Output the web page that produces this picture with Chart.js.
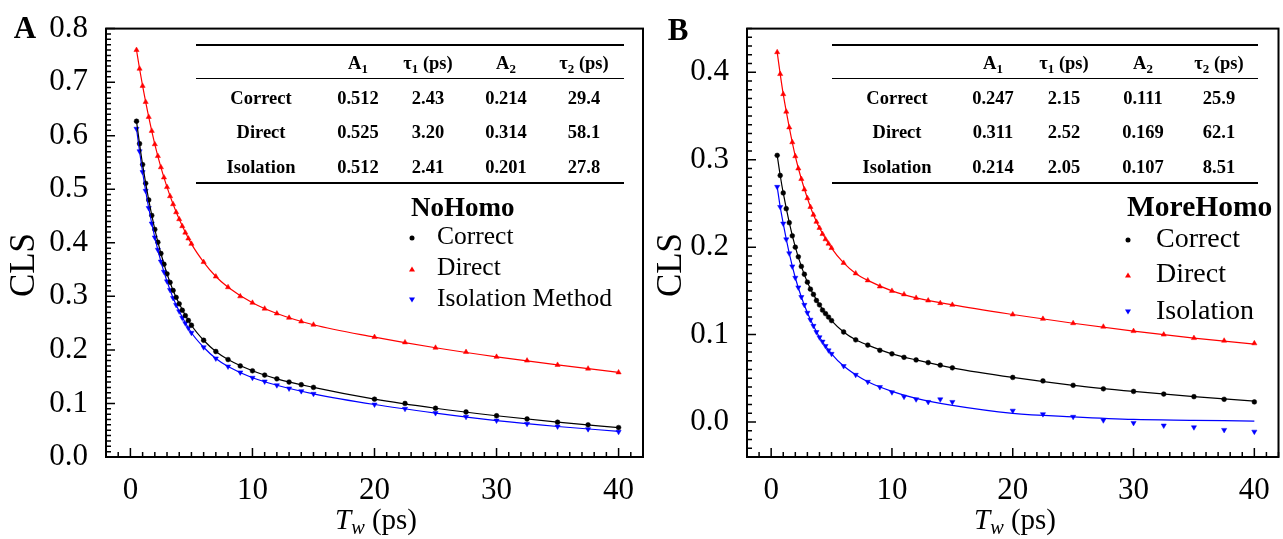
<!DOCTYPE html>
<html>
<head>
<meta charset="utf-8">
<script src="https://cdn.jsdelivr.net/npm/chart.js@4.4.1/dist/chart.umd.min.js"></script>
<style>
  body { margin: 0; background: #fff; }
  #wrap { position: relative; width: 1283px; height: 539px; overflow: hidden; font-family: "Liberation Serif", "Times New Roman", serif; color: #000; }
  .panel { position: absolute; top: 0; height: 539px; }
  .t { position: absolute; white-space: nowrap; transform: translate(-50%, -50%); line-height: 1; }
  .l { position: absolute; white-space: nowrap; transform: translate(0, -50%); line-height: 1; }
  .rule { position: absolute; height: 0; border-top: 2px solid #000; }
  .tab { font-weight: bold; font-size: 18.5px; }
  sub { font-size: 0.7em; vertical-align: -0.25em; }
  .dot { position: absolute; width: 5px; height: 5px; border-radius: 50%; background: #000; transform: translate(-50%, -50%); }
  .up { position: absolute; width: 0; height: 0; border-left: 3px solid transparent; border-right: 3px solid transparent; border-bottom: 5px solid #f00; transform: translate(-50%, -50%); }
  .down { position: absolute; width: 0; height: 0; border-left: 3px solid transparent; border-right: 3px solid transparent; border-top: 5px solid #00f; transform: translate(-50%, -50%); }
</style>
</head>
<body>
<div id="wrap">
  <div class="panel" style="left:0;width:650px"><canvas id="chartA"></canvas></div>
  <div class="panel" style="left:640px;width:643px"><canvas id="chartB"></canvas></div>
</div>
<script>
// waiting times (ps) of the measured points
var tData = [0.5, 0.75, 1, 1.25, 1.5, 1.75, 2, 2.25, 2.5, 2.75, 3, 3.25, 3.5, 3.75, 4, 4.25, 4.5, 4.75, 5,
  6, 7, 8, 9, 10, 11, 12, 13, 14, 15, 20, 22.5, 25, 27.5, 30, 32.5, 35, 37.5, 40];

// panel A (NoHomo)
var aCorrect = [0.627, 0.585, 0.546, 0.511, 0.480, 0.451, 0.425, 0.401, 0.380, 0.360, 0.342, 0.326, 0.311, 0.298, 0.286, 0.274, 0.264, 0.255, 0.246,
  0.218, 0.197, 0.182, 0.170, 0.161, 0.153, 0.146, 0.140, 0.135, 0.130, 0.108, 0.100, 0.091, 0.084, 0.077, 0.071, 0.065, 0.060, 0.055];
var aDirect = [0.760, 0.725, 0.693, 0.663, 0.635, 0.609, 0.584, 0.562, 0.541, 0.522, 0.504, 0.487, 0.472, 0.457, 0.444, 0.431, 0.419, 0.408, 0.398,
  0.364, 0.337, 0.317, 0.300, 0.288, 0.277, 0.268, 0.260, 0.253, 0.247, 0.224, 0.214, 0.204, 0.196, 0.187, 0.180, 0.172, 0.165, 0.158];
var aIsolation = [0.613, 0.571, 0.532, 0.497, 0.465, 0.436, 0.410, 0.387, 0.365, 0.346, 0.328, 0.312, 0.297, 0.284, 0.272, 0.260, 0.250, 0.241, 0.232,
  0.205, 0.184, 0.169, 0.158, 0.148, 0.141, 0.134, 0.128, 0.123, 0.118, 0.098, 0.090, 0.082, 0.075, 0.068, 0.062, 0.057, 0.052, 0.047];

// panel B (MoreHomo)
var bCorrect = [0.305, 0.282, 0.262, 0.244, 0.228, 0.213, 0.200, 0.189, 0.178, 0.169, 0.160, 0.152, 0.146, 0.139, 0.134, 0.128, 0.124, 0.120, 0.116,
  0.103, 0.094, 0.088, 0.082, 0.078, 0.074, 0.071, 0.068, 0.065, 0.062, 0.051, 0.047, 0.042, 0.038, 0.035, 0.032, 0.029, 0.026, 0.023];
var bDirect = [0.423, 0.398, 0.375, 0.355, 0.337, 0.320, 0.304, 0.290, 0.278, 0.266, 0.256, 0.246, 0.237, 0.229, 0.222, 0.215, 0.209, 0.204, 0.199,
  0.182, 0.170, 0.162, 0.155, 0.150, 0.146, 0.142, 0.139, 0.136, 0.134, 0.123, 0.118, 0.113, 0.109, 0.104, 0.100, 0.096, 0.093, 0.090];
var bIsolation = [0.269, 0.246, 0.227, 0.209, 0.193, 0.178, 0.165, 0.154, 0.143, 0.134, 0.125, 0.117, 0.110, 0.103, 0.097, 0.092, 0.087, 0.082, 0.078,
  0.064, 0.054, 0.046, 0.040, 0.034, 0.029, 0.026, 0.023, 0.026, 0.023, 0.013, 0.009, 0.006, 0.002, -0.001, -0.004, -0.006, -0.009, -0.011];

// fitted curves
var tFit = [0.5, 0.75, 1, 1.5, 2, 2.5, 3, 3.5, 4, 5, 6, 7, 8, 10, 12, 15, 20, 25, 30, 35, 40];
var aCorrectFit = [0.627, 0.585, 0.546, 0.480, 0.425, 0.380, 0.342, 0.311, 0.286, 0.246, 0.218, 0.197, 0.182, 0.161, 0.146, 0.130, 0.108, 0.091, 0.077, 0.065, 0.055];
var aDirectFit = [0.760, 0.725, 0.693, 0.635, 0.584, 0.541, 0.504, 0.472, 0.444, 0.398, 0.364, 0.337, 0.317, 0.288, 0.268, 0.247, 0.224, 0.204, 0.187, 0.172, 0.158];
var aIsolationFit = [0.613, 0.571, 0.532, 0.465, 0.410, 0.365, 0.328, 0.297, 0.272, 0.232, 0.205, 0.184, 0.169, 0.148, 0.134, 0.118, 0.098, 0.082, 0.068, 0.057, 0.048];
var bCorrectFit = [0.305, 0.282, 0.262, 0.228, 0.200, 0.178, 0.160, 0.146, 0.134, 0.116, 0.103, 0.094, 0.088, 0.078, 0.071, 0.062, 0.051, 0.042, 0.035, 0.029, 0.024];
var bDirectFit = [0.423, 0.398, 0.375, 0.337, 0.304, 0.278, 0.256, 0.237, 0.222, 0.199, 0.182, 0.170, 0.162, 0.150, 0.142, 0.134, 0.123, 0.113, 0.104, 0.096, 0.089];
var bIsolationFit = [0.269, 0.246, 0.227, 0.193, 0.165, 0.143, 0.125, 0.110, 0.097, 0.078, 0.064, 0.054, 0.046, 0.035, 0.027, 0.019, 0.010, 0.006, 0.003, 0.002, 0.001];

// axis ticks
var xTicks = [0, 10, 20, 30, 40];
var yTicksA = [0.0, 0.1, 0.2, 0.3, 0.4, 0.5, 0.6, 0.7, 0.8];
var yTicksB = [0.0, 0.1, 0.2, 0.3, 0.4];

// inset tables
var tableHead = ["", "A<sub>1</sub>", "τ<sub>1</sub> (ps)", "A<sub>2</sub>", "τ<sub>2</sub> (ps)"];
var tableRowsA = [
  ["Correct", "0.512", "2.43", "0.214", "29.4"],
  ["Direct", "0.525", "3.20", "0.314", "58.1"],
  ["Isolation", "0.512", "2.41", "0.201", "27.8"]
];
var tableRowsB = [
  ["Correct", "0.247", "2.15", "0.111", "25.9"],
  ["Direct", "0.311", "2.52", "0.169", "62.1"],
  ["Isolation", "0.214", "2.05", "0.107", "8.51"]
];
var legendA = ["Correct", "Direct", "Isolation Method"];
var legendB = ["Correct", "Direct", "Isolation"];

Chart.defaults.font.family = "'Liberation Serif', 'Times New Roman', serif";
Chart.defaults.color = "#000";

function pts(xs, ys) {
  return xs.map(function (x, i) { return { x: x, y: ys[i] }; });
}

// box around the plot and inward ticks
var framePlugin = {
  id: "frame",
  afterDraw: function (chart, args, opts) {
    var ctx = chart.ctx, a = chart.chartArea;
    var xs = chart.scales.x, ys = chart.scales.y;
    ctx.save();
    ctx.strokeStyle = "#000";
    ctx.lineWidth = 2;
    ctx.strokeRect(a.left, a.top, a.right - a.left, a.bottom - a.top);
    ctx.lineWidth = 1.5;
    ctx.beginPath();
    var i, v, p, len;
    for (i = Math.ceil(xs.min / opts.xMinor); i * opts.xMinor <= xs.max + 1e-9; i++) {
      v = i * opts.xMinor;
      p = xs.getPixelForValue(v);
      len = Math.abs(v / opts.xMajor - Math.round(v / opts.xMajor)) < 1e-6 ? 9 : 5;
      ctx.moveTo(p, a.bottom);
      ctx.lineTo(p, a.bottom - len);
    }
    for (i = Math.ceil(ys.min / opts.yMinor - 1e-6); i * opts.yMinor <= ys.max + 1e-9; i++) {
      v = i * opts.yMinor;
      p = ys.getPixelForValue(v);
      len = Math.abs(v / opts.yMajor - Math.round(v / opts.yMajor)) < 1e-6 ? 9 : 5;
      ctx.moveTo(a.left, p);
      ctx.lineTo(a.left + len, p);
    }
    ctx.stroke();
    ctx.restore();
  }
};

function makeChart(id, series, yMin, yMax, yTicks, padRight, yWidth) {
  var colors = ["#000000", "#ff0000", "#0000ff"];
  var styles = ["circle", "triangle", "triangle"];
  var rot = [0, 0, 180];
  var radii = [2.4, 3, 3];
  var datasets = [];
  series.fits.forEach(function (f, k) {
    datasets.push({
      data: pts(tFit, f), showLine: true, pointRadius: 0, borderColor: colors[k],
      borderWidth: 1.2, cubicInterpolationMode: "monotone", fill: false
    });
  });
  series.points.forEach(function (s, k) {
    datasets.push({
      data: pts(tData, s), showLine: false, pointStyle: styles[k], rotation: rot[k],
      pointRadius: radii[k], backgroundColor: colors[k], borderColor: colors[k], borderWidth: 0.5
    });
  });
  return new Chart(document.getElementById(id), {
    type: "scatter",
    data: { datasets: datasets },
    options: {
      responsive: true,
      maintainAspectRatio: false,
      animation: false,
      layout: { padding: { left: 0, right: padRight, top: 24, bottom: 0 } },
      plugins: {
        legend: { display: false },
        tooltip: { enabled: false },
        frame: { xMinor: 1, xMajor: 10, yMinor: 0.01, yMajor: 0.1 }
      },
      scales: {
        x: {
          type: "linear", min: -2, max: 42,
          grid: { display: false }, border: { display: false },
          afterBuildTicks: function (s) { s.ticks = xTicks.map(function (v) { return { value: v }; }); },
          afterFit: function (s) { s.height = 82; },
          ticks: { font: { size: 31 }, padding: 7, maxRotation: 0, callback: function (v) { return String(v); } }
        },
        y: {
          type: "linear", min: yMin, max: yMax,
          grid: { display: false }, border: { display: false },
          afterBuildTicks: function (s) { s.ticks = yTicks.map(function (v) { return { value: v }; }); },
          afterFit: function (s) { s.width = yWidth; },
          ticks: { font: { size: 31 }, padding: 10, callback: function (v) { return v.toFixed(1); } }
        }
      }
    },
    plugins: [framePlugin]
  });
}

makeChart("chartA", { points: [aCorrect, aDirect, aIsolation], fits: [aCorrectFit, aDirectFit, aIsolationFit] }, 0, 0.8, yTicksA, 7, 106);
makeChart("chartB", { points: [bCorrect, bDirect, bIsolation], fits: [bCorrectFit, bDirectFit, bIsolationFit] }, -0.04, 0.45, yTicksB, 0, 107);

// overlay text: tables, legends, axis titles
var wrap = document.getElementById("wrap");
function add(cls, html, x, y, css) {
  var d = document.createElement("div");
  d.className = cls;
  d.innerHTML = html;
  d.style.left = x + "px";
  d.style.top = y + "px";
  if (css) d.style.cssText += css;
  wrap.appendChild(d);
  return d;
}

function table(x0, x1, cols, rows) {
  add("rule", "", x0, 44, "width:" + (x1 - x0) + "px");
  add("rule", "", x0, 78, "width:" + (x1 - x0) + "px;border-top-width:1.5px");
  add("rule", "", x0, 182, "width:" + (x1 - x0) + "px");
  tableHead.forEach(function (h, c) { if (h) add("t tab", h, cols[c], 65); });
  var ry = [98, 132, 167];
  rows.forEach(function (r, k) {
    r.forEach(function (cell, c) { add("t tab", cell, cols[c], ry[k]); });
  });
}
table(196, 624, [261, 358, 428, 506, 584], tableRowsA);
table(832, 1258, [897, 993, 1064, 1143, 1219], tableRowsB);

function legend(title, labels, xm, xt, ys, size) {
  add("l", title, xm - 1, 207, "font-weight:bold;font-size:" + (size + 1.5) + "px");
  var marks = ["dot", "up", "down"];
  labels.forEach(function (lab, k) {
    add(marks[k], "", xm, ys[k] + 2);
    add("l", lab, xt, ys[k], "font-size:" + size + "px");
  });
}
legend("NoHomo", legendA, 412, 437, [236, 267, 298], 25.5);
legend("MoreHomo", legendB, 1128, 1156, [238, 273, 310], 28);

add("t", "A", 25, 27, "font-weight:bold;font-size:31px");
add("t", "B", 678, 29, "font-weight:bold;font-size:31px");
add("t", "CLS", 22, 265, "font-size:35px;transform:translate(-50%,-50%) rotate(-90deg)");
add("t", "CLS", 669, 265, "font-size:35px;transform:translate(-50%,-50%) rotate(-90deg)");
var tw = "<i>T</i><sub><i>w</i></sub> (ps)";
add("t", tw, 376, 521, "font-size:29px");
add("t", tw, 1015, 521, "font-size:29px");
</script>
</body>
</html>
